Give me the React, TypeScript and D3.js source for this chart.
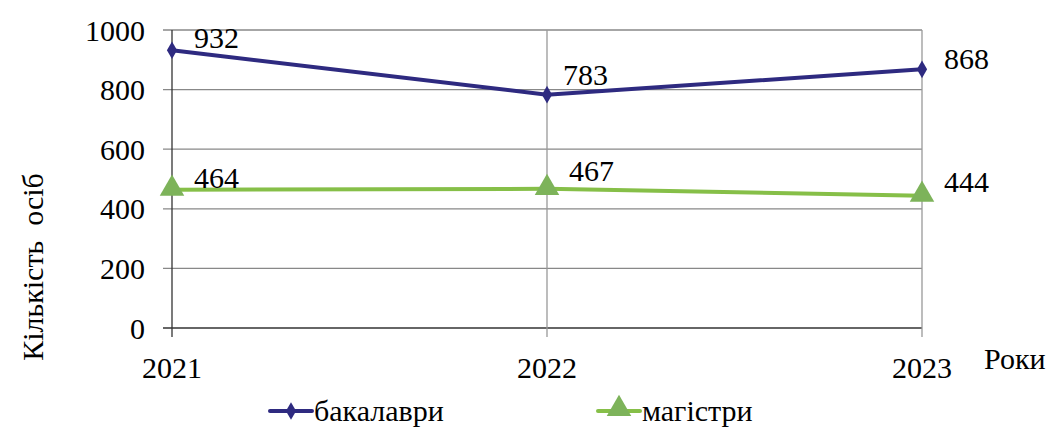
import React from "react";
import * as d3 from "d3";

const years = ["2021", "2022", "2023"];
const bachelors = [932, 783, 868];
const masters = [464, 467, 444];
const yTicks = [0, 200, 400, 600, 800, 1000];
const seriesNames = ["бакалаври", "магістри"];

const W = 1053, H = 428;
const left = 172, right = 922, top = 30, bottom = 328;
const FONT = "Liberation Serif";
const NAVY = "#2E2A80";
const GREEN = "#86BF48";
const GREEN_M = "#7DB35A";

export default function App() {
  const x = d3.scalePoint<string>().domain(years).range([left, right]);
  const y = d3.scaleLinear().domain([0, 1000]).range([bottom, top]);
  const line = d3.line<number>().x((_, i) => x(years[i])!).y((d) => y(d));
  const fs = 30;
  const diamond = d3.symbol().type(d3.symbolDiamond).size(90)()!;
  const tri = d3.symbol().type(d3.symbolTriangle).size(260)()!;

  const bLabelOff = [[22, -2], [16, -10], [22, 0]];
  const mLabelOff = [[22, -2], [22, -8], [22, -4]];
  const ts: React.CSSProperties = { fontFamily: FONT };

  return (
    <svg width={W} height={H} style={{ position: "absolute", left: 0, top: 0, background: "#fff" }}>
      {yTicks.map((t) => (
        <line key={t} x1={left - 9} x2={right} y1={y(t)} y2={y(t)} stroke={t === 0 ? "#333" : "#888"} strokeWidth={1.3} />
      ))}
      {years.map((yr, i) => (
        <line key={yr} x1={x(yr)} x2={x(yr)} y1={top} y2={bottom + 9} stroke={i === 0 ? "#333" : "#999"} strokeWidth={1.3} />
      ))}
      {yTicks.map((t) => (
        <text key={t} style={ts} x={145} y={y(t)} dy="0.35em" textAnchor="end" fontSize={fs} fill="#000">{t}</text>
      ))}
      {years.map((yr) => (
        <text key={yr} style={ts} x={x(yr)} y={378} textAnchor="middle" fontSize={fs} fill="#000">{yr}</text>
      ))}
      <text style={ts} x={984} y={369} fontSize={fs} fill="#000">Роки</text>
      <text style={{ ...ts, whiteSpace: "pre" }} transform={`translate(43,${267}) rotate(-90)`} textAnchor="middle" fontSize={fs} fill="#000">Кількість  осіб</text>

      <path d={line(bachelors)!} fill="none" stroke={NAVY} strokeWidth={4} />
      {bachelors.map((v, i) => (
        <path key={i} d={diamond} transform={`translate(${x(years[i])},${y(v)})`} fill={NAVY} />
      ))}
      <path d={line(masters)!} fill="none" stroke={GREEN} strokeWidth={4} />
      {masters.map((v, i) => (
        <path key={i} d={tri} transform={`translate(${x(years[i])},${y(v) - 1})`} fill={GREEN_M} />
      ))}
      {bachelors.map((v, i) => (
        <text key={i} style={ts} x={x(years[i])! + bLabelOff[i][0]} y={y(v) + bLabelOff[i][1]} fontSize={fs} fill="#000">{v}</text>
      ))}
      {masters.map((v, i) => (
        <text key={i} style={ts} x={x(years[i])! + mLabelOff[i][0]} y={y(v) + mLabelOff[i][1]} fontSize={fs} fill="#000">{v}</text>
      ))}

      <line x1={270} x2={312} y1={411} y2={411} stroke={NAVY} strokeWidth={4} strokeLinecap="round" />
      <path d={diamond} transform="translate(291,411)" fill={NAVY} />
      <text style={ts} x={314} y={421} fontSize={fs} fill="#000">{seriesNames[0]}</text>
      <line x1={598} x2={640} y1={411} y2={411} stroke={GREEN} strokeWidth={4} strokeLinecap="round" />
      <path d={tri} transform="translate(619,409)" fill={GREEN_M} />
      <text style={ts} x={642} y={421} fontSize={fs} fill="#000">{seriesNames[1]}</text>
    </svg>
  );
}
